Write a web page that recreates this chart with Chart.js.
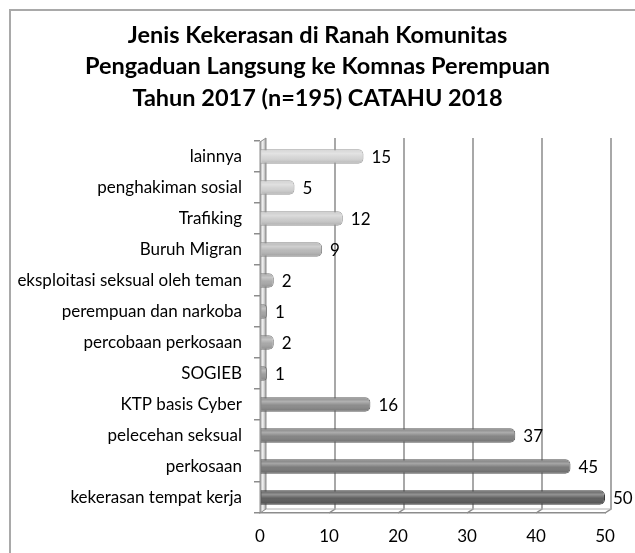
<!DOCTYPE html>
<html>
<head>
<meta charset="utf-8">
<script src="https://cdn.jsdelivr.net/npm/chart.js@4/dist/chart.umd.min.js"></script>
<style>
  html, body { margin: 0; padding: 0; background: #fff; }
  #wrap { width: 635px; height: 553px; }
</style>
</head>
<body>
<div id="wrap"><canvas id="chart"></canvas></div>
<script>
const titleLines = [
    'Jenis Kekerasan di Ranah Komunitas',
    'Pengaduan Langsung ke Komnas Perempuan',
    'Tahun 2017 (n=195) CATAHU 2018'
];
const categories = [
    'lainnya', 'penghakiman sosial', 'Trafiking', 'Buruh Migran',
    'eksploitasi seksual oleh teman', 'perempuan dan narkoba',
    'percobaan perkosaan', 'SOGIEB', 'KTP basis Cyber',
    'pelecehan seksual', 'perkosaan', 'kekerasan tempat kerja'
];
const counts = [15, 5, 12, 9, 2, 1, 2, 1, 16, 37, 45, 50];
const xTicks = [0, 10, 20, 30, 40, 50];

const barColors = ['#d4d4d4', '#d0d0d0', '#c9c9c9', '#b6b6b6', '#a8a8a8', '#a2a2a2',
    '#a4a4a4', '#989898', '#878787', '#7f7f7f', '#757575', '#585858'];
const barBorders = ['#9a9a9a', '#989898', '#939393', '#858585', '#7a7a7a', '#767676',
    '#787878', '#6e6e6e', '#626262', '#5a5a5a', '#525252', '#3a3a3a'];

const FONT = 'Lato, "Open Sans", sans-serif';

// outer frame and the centred title (centred on the whole picture)
const framePlugin = {
    id: 'frame',
    beforeDraw(chart) {
        const ctx = chart.ctx;
        ctx.save();
        ctx.strokeStyle = '#a9a9a9';
        ctx.lineWidth = 2;
        ctx.strokeRect(10, 10, 700, 700);
        ctx.fillStyle = '#000';
        ctx.font = 'bold 23.5px ' + FONT;
        ctx.textAlign = 'center';
        ctx.textBaseline = 'middle';
        titleLines.forEach((t, i) => {
            ctx.fillText(t, chart.width / 2, 35 + i * 31.5);
        });
        ctx.restore();
    }
};

// back wall, vertical grid lines drawn a little up/right (3d look)
const wallPlugin = {
    id: 'wall',
    beforeDatasetsDraw(chart) {
        const ctx = chart.ctx;
        const x = chart.scales.x;
        const area = chart.chartArea;
        const dx = 6, dy = 4;
        ctx.save();
        ctx.strokeStyle = '#8c8c8c';
        ctx.lineWidth = 1.5;
        xTicks.forEach(v => {
            if (v === 0) return;
            const px = x.getPixelForValue(v);
            ctx.beginPath();
            ctx.moveTo(px + dx, area.top - 3);
            ctx.lineTo(px + dx, area.bottom - dy);
            ctx.lineTo(px, area.bottom);
            ctx.stroke();
        });
        // floor back edge
        ctx.beginPath();
        ctx.moveTo(x.getPixelForValue(0) + dx, area.bottom - dy);
        ctx.lineTo(x.getPixelForValue(50) + dx, area.bottom - dy);
        ctx.strokeStyle = '#b0b0b0';
        ctx.lineWidth = 1;
        ctx.stroke();
        // left wall
        const x0 = x.getPixelForValue(0);
        const g = ctx.createLinearGradient(x0, 0, x0 + dx, 0);
        g.addColorStop(0, '#9a9a9a');
        g.addColorStop(0.45, '#f4f4f4');
        g.addColorStop(1, '#a0a0a0');
        ctx.fillStyle = g;
        ctx.beginPath();
        ctx.moveTo(x0, area.top + 1);
        ctx.lineTo(x0 + dx, area.top - 3);
        ctx.lineTo(x0 + dx, area.bottom - dy);
        ctx.lineTo(x0, area.bottom);
        ctx.closePath();
        ctx.fill();
        ctx.strokeStyle = '#8c8c8c';
        ctx.lineWidth = 1;
        ctx.stroke();
        ctx.restore();
    }
};

// cylinder shading and value labels
const barExtras = {
    id: 'barExtras',
    afterDatasetsDraw(chart) {
        const ctx = chart.ctx;
        const meta = chart.getDatasetMeta(0);
        ctx.save();
        meta.data.forEach((bar, i) => {
            const h = bar.height;
            const top = bar.y - h / 2;
            const g = ctx.createLinearGradient(0, top, 0, top + h);
            g.addColorStop(0, 'rgba(255,255,255,0.0)');
            g.addColorStop(0.3, 'rgba(255,255,255,0.35)');
            g.addColorStop(0.55, 'rgba(255,255,255,0.05)');
            g.addColorStop(1, 'rgba(0,0,0,0.18)');
            ctx.fillStyle = g;
            const w = bar.x - bar.base;
            const r = Math.min(4, w / 2);
            ctx.beginPath();
            ctx.moveTo(bar.base + 1, top + 1);
            ctx.lineTo(bar.x - r, top + 1);
            ctx.quadraticCurveTo(bar.x - 1, top + 1, bar.x - 1, top + r);
            ctx.lineTo(bar.x - 1, top + h - r);
            ctx.quadraticCurveTo(bar.x - 1, top + h - 1, bar.x - r, top + h - 1);
            ctx.lineTo(bar.base + 1, top + h - 1);
            ctx.closePath();
            ctx.fill();

            ctx.fillStyle = '#000';
            ctx.font = '17px ' + FONT;
            ctx.textAlign = 'left';
            ctx.textBaseline = 'middle';
            ctx.fillText(String(counts[i]), bar.x + 8, bar.y + 1);
        });
        ctx.restore();
    }
};

new Chart(document.getElementById('chart'), {
    type: 'bar',
    data: {
        labels: categories,
        datasets: [{
            data: counts,
            backgroundColor: barColors,
            borderColor: barBorders,
            borderWidth: 1,
            borderRadius: 5,
            borderSkipped: 'start',
            barPercentage: 0.47,
            categoryPercentage: 1
        }]
    },
    options: {
        indexAxis: 'y',
        responsive: true,
        maintainAspectRatio: false,
        animation: false,
        layout: { padding: { left: 0, right: 30, top: 141, bottom: 0 } },
        plugins: {
            legend: { display: false },
            tooltip: { enabled: false },
            title: { display: false }
        },
        scales: {
            x: {
                min: 0,
                max: 50,
                afterBuildTicks(scale) { scale.ticks = xTicks.map(v => ({ value: v })); },
                afterFit(scale) { scale.height = 40; },
                border: { display: true, color: '#8c8c8c', width: 1.5 },
                grid: { drawOnChartArea: false, drawTicks: false },
                ticks: { color: '#000', padding: 13, font: { family: FONT, size: 17 } }
            },
            y: {
                afterFit(scale) { scale.width = 260; },
                border: { display: false },
                grid: { offset: true, drawOnChartArea: false, tickLength: 6, color: '#8c8c8c', lineWidth: 1.5 },
                ticks: { color: '#000', padding: 12, font: { family: FONT, size: 17 } }
            }
        }
    },
    plugins: [framePlugin, wallPlugin, barExtras]
});
</script>
</body>
</html>
